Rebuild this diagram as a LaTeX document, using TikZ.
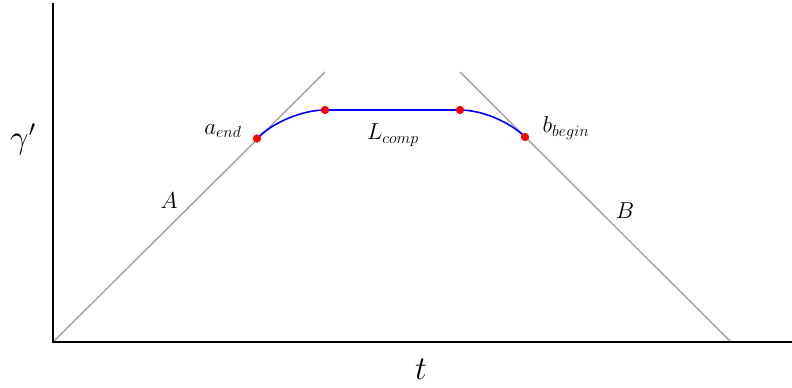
\documentclass[tikz,border=0pt]{standalone}
\begin{document}
\begin{tikzpicture}[x=0.75pt,y=-0.75pt,
  axis/.style={line width=1.5pt,black},
  guide/.style={line width=1.1pt,gray!70},
  blend/.style={line width=1.2pt,blue},
  pt/.style={circle,fill=red,inner sep=0pt,minimum size=6pt},
  lab/.style={font=\fontsize{18}{22}\selectfont,inner sep=0pt},
  biglab/.style={font=\fontsize{26}{30}\selectfont,inner sep=0pt}]
\useasboundingbox (0,0) rectangle (792,387);
\coordinate (O) at (53,342);
\coordinate (ytop) at (53,3);
\coordinate (xend) at (792,342);
\coordinate (Atop) at (325,72);
\coordinate (Btop) at (460,72);
\coordinate (Bbot) at (731,342);
\draw[guide] (O) -- (Atop);
\draw[guide] (Btop) -- (Bbot);
\draw[axis] (ytop) -- (O) -- (xend);
\node[pt] (p1) at (257,138.5) {};
\node[pt] (p2) at (325,110) {};
\node[pt] (p3) at (460,110) {};
\node[pt] (p4) at (525,137) {};
\draw[blend] (p1.center) .. controls (273,122) and (303,110) .. (p2.center) -- (p3.center)
  .. controls (482,110) and (510,122) .. (p4.center);
\node[pt] at (p1) {};
\node[pt] at (p2) {};
\node[pt] at (p3) {};
\node[pt] at (p4) {};
\node[lab] (aend) at (223,131) {$a_{end}$};
\node[lab] (lcomp) at (393,135) {$L_{comp}$};
\node[lab] (bbeg) at (566,128) {$b_{begin}$};
\node[lab] (labA) at (169,201) {$A$};
\node[lab] (labB) at (625,211) {$B$};
\node[biglab] (gam) at (23,139) {$\gamma'$};
\node[biglab] (tl) at (421,369) {$t$};
\end{tikzpicture}
\end{document}
